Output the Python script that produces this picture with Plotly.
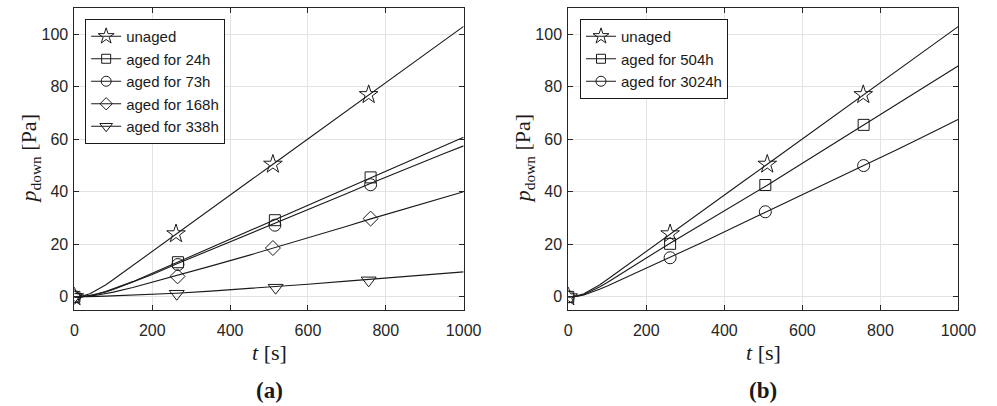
import plotly.graph_objects as go

# ---------------- data ----------------
t_line = [0, 20, 40, 60, 80, 100, 150, 200, 262, 350, 450, 510, 600, 700, 757, 850, 950, 1000]

# panel (a)
a_unaged = [0, 0.3, 1.2, 2.7, 4.5, 6.6, 12.0, 17.4, 24.0, 33.3, 44.1, 50.5, 60.1, 70.9, 77.0, 87.0, 97.7, 103.0]
a_24h = [0, 0.1, 0.5, 1.1, 2.0, 3.0, 5.8, 9.0, 13.0, 18.7, 25.2, 29.0, 34.8, 41.3, 45.0, 51.0, 57.5, 60.8]
a_73h = [0, 0.1, 0.5, 1.1, 1.9, 2.8, 5.5, 8.5, 12.5, 17.9, 24.0, 27.5, 33.1, 39.4, 43.0, 48.7, 54.6, 57.5]
a_168h = [0, 0.1, 0.3, 0.7, 1.2, 1.8, 3.6, 5.6, 8.0, 11.7, 15.9, 18.5, 22.5, 26.9, 29.5, 33.5, 37.8, 40.0]
a_338h = [0, 0.0, 0.1, 0.2, 0.3, 0.4, 0.7, 1.0, 1.4, 2.2, 3.2, 3.8, 4.8, 6.0, 6.7, 7.8, 8.9, 9.5]

# panel (b)
b_unaged = a_unaged
b_504h = [0, 0.2, 0.9, 2.2, 3.8, 5.5, 10.0, 14.8, 20.5, 28.3, 37.2, 42.5, 50.9, 60.2, 65.5, 74.2, 83.4, 88.0]
b_3024h = [0, 0.2, 0.7, 1.7, 2.9, 4.1, 7.5, 11.0, 15.0, 21.2, 28.3, 32.5, 38.9, 46.0, 50.0, 56.6, 63.9, 67.6]

# marker (measurement) points
m_t_unaged = [0, 261, 510, 756]
m_p_unaged = [0, 24.0, 50.5, 77.0]
m_t_24h = [0, 266, 515, 761]
m_p_24h = [0, 13.2, 29.2, 45.5]
m_t_73h = [0, 266, 515, 761]
m_p_73h = [0, 12.3, 27.3, 42.7]
m_t_168h = [0, 265, 510, 761]
m_p_168h = [0, 7.8, 18.6, 29.8]
m_t_338h = [0, 263, 517, 756]
m_p_338h = [0, 1.2, 3.5, 6.3]
m_t_504h = [0, 261, 505, 757]
m_p_504h = [0, 20.2, 42.6, 65.5]
m_t_3024h = [0, 261, 505, 757]
m_p_3024h = [0, 14.9, 32.4, 50.0]

xticks = [0, 200, 400, 600, 800, 1000]
yticks = [0, 20, 40, 60, 80, 100]

labels_a = ["unaged", "aged for 24h", "aged for 73h", "aged for 168h", "aged for 338h"]
labels_b = ["unaged", "aged for 504h", "aged for 3024h"]

# ---------------- styling ----------------
INK = "#1a1a1a"
AX = "#262626"
GRID = "#e3e3e3"
SANS = "Arial"
SERIF = "Times New Roman"
W, H = 997, 406

fig = go.Figure()

sym = {
    "unaged": ("star-open", 14),
    "aged for 24h": ("square-open", 11),
    "aged for 73h": ("circle-open", 12),
    "aged for 168h": ("diamond-open", 11.5),
    "aged for 338h": ("triangle-down-open", 13),
    "aged for 504h": ("square-open", 11),
    "aged for 3024h": ("circle-open", 12),
}


def add_series(name, curve, mt, mp, xa, ya, legend):
    s, sz = sym[name]
    fig.add_trace(go.Scatter(x=t_line, y=curve, mode="lines", line=dict(color=INK, width=1.1),
                             xaxis=xa, yaxis=ya, showlegend=False, hoverinfo="skip"))
    fig.add_trace(go.Scatter(x=mt, y=mp, mode="markers",
                             marker=dict(symbol=s, size=sz, color=INK, line=dict(color=INK, width=1)),
                             xaxis=xa, yaxis=ya, showlegend=False))
    # legend entry
    fig.add_trace(go.Scatter(x=[None], y=[None], mode="lines+markers", name=name,
                             line=dict(color=INK, width=1),
                             marker=dict(symbol=s, size=sz - 2, color=INK, line=dict(color=INK, width=1)),
                             xaxis=xa, yaxis=ya, legend=legend, showlegend=True))


add_series(labels_a[0], a_unaged, m_t_unaged, m_p_unaged, "x", "y", "legend")
add_series(labels_a[1], a_24h, m_t_24h, m_p_24h, "x", "y", "legend")
add_series(labels_a[2], a_73h, m_t_73h, m_p_73h, "x", "y", "legend")
add_series(labels_a[3], a_168h, m_t_168h, m_p_168h, "x", "y", "legend")
add_series(labels_a[4], a_338h, m_t_338h, m_p_338h, "x", "y", "legend")

add_series(labels_b[0], b_unaged, m_t_unaged, m_p_unaged, "x2", "y2", "legend2")
add_series(labels_b[1], b_504h, m_t_504h, m_p_504h, "x2", "y2", "legend2")
add_series(labels_b[2], b_3024h, m_t_3024h, m_p_3024h, "x2", "y2", "legend2")

ax_common = dict(showgrid=True, gridcolor=GRID, gridwidth=1, zeroline=False,
                 showline=True, linecolor=AX, linewidth=1, mirror="allticks",
                 ticks="inside", ticklen=5, tickcolor=AX,
                 tickfont=dict(family=SANS, size=16, color=AX))

ytop = 1 - 8 / H
ybot = 1 - 310 / H
dom_a = [72 / W, 470 / W]
dom_b = [577 / W, 976 / W]

leg_common = dict(yanchor="top", xanchor="left", bgcolor="white", bordercolor=INK, borderwidth=1,
                  font=dict(family=SANS, size=15, color=INK), tracegroupgap=0, itemwidth=30)

fig.update_layout(
    width=W, height=H,
    margin=dict(l=0, r=0, t=0, b=0),
    paper_bgcolor="white", plot_bgcolor="white",
    xaxis=dict(domain=dom_a, range=[0, 1000], tickvals=xticks, anchor="y", ticklabelstandoff=6, **ax_common),
    yaxis=dict(domain=[ybot, ytop], range=[-5, 110], tickvals=yticks, anchor="x", ticklabelstandoff=2, **ax_common),
    xaxis2=dict(domain=dom_b, range=[0, 1000], tickvals=xticks, anchor="y2", ticklabelstandoff=6, **ax_common),
    yaxis2=dict(domain=[ybot, ytop], range=[-5, 110], tickvals=yticks, anchor="x2", ticklabelstandoff=2, **ax_common),
    legend=dict(x=83 / W, y=1 - 19 / H, **leg_common),
    legend2=dict(x=589 / W, y=1 - 19 / H, **leg_common),
    showlegend=True,
)

ann = []
for cx, cap, ylx in [((72 + 470) / 2, "(a)", 27), ((577 + 976) / 2, "(b)", 532)]:
    ann.append(dict(x=cx / W, y=1 - 352 / H, xref="paper", yref="paper", showarrow=False,
                    text="<i>t</i> [s]", font=dict(family=SERIF, size=22, color=INK),
                    xanchor="center", yanchor="middle"))
    ann.append(dict(x=cx / W, y=1 - 390 / H, xref="paper", yref="paper", showarrow=False,
                    text="<b>" + cap + "</b>", font=dict(family=SERIF, size=23, color=INK),
                    xanchor="center", yanchor="middle"))
    ann.append(dict(x=ylx / W, y=1 - 159 / H, xref="paper", yref="paper", showarrow=False,
                    text="<i>p</i><sub>down</sub> [Pa]", textangle=-90,
                    font=dict(family=SERIF, size=22, color=INK),
                    xanchor="center", yanchor="middle"))
fig.update_layout(annotations=ann)

fig.write_html("out.html")
